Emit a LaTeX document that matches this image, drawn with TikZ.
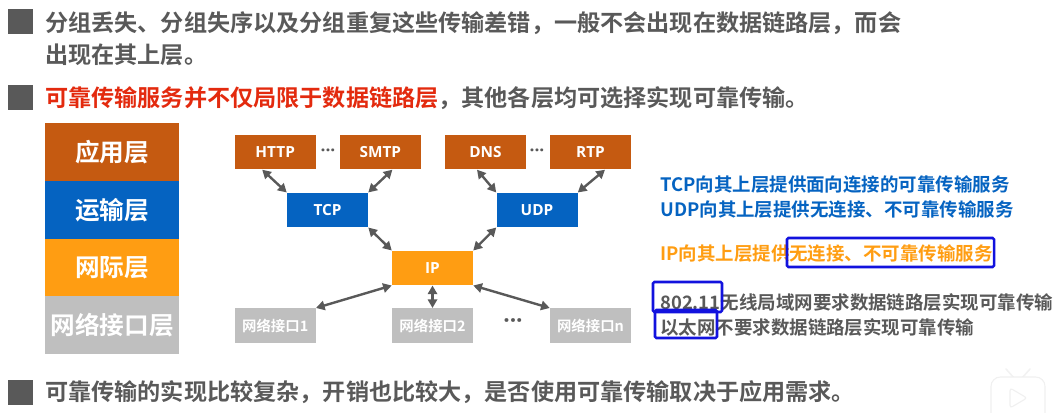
\documentclass[tikz,border=0pt]{standalone}
\usepackage{fontspec}
\setmainfont{Noto Sans CJK SC}[BoldFont={Noto Sans CJK SC Bold}]
\newfontfamily\latinfont{Open Sans}[BoldFont={Open Sans Bold}]
\usetikzlibrary{arrows.meta}
\definecolor{appclr}{HTML}{C55A11}
\definecolor{tranclr}{HTML}{0563C1}
\definecolor{ipclr}{HTML}{FF9D12}
\definecolor{linkclr}{HTML}{BFBFBF}
\definecolor{txtclr}{HTML}{595959}
\definecolor{redclr}{HTML}{E32A0E}
\definecolor{boxclr}{HTML}{1212DE}
\begin{document}
\begin{tikzpicture}[
    x=0.75pt, y=-0.75pt,
    layer/.style={minimum width=134.3*0.75pt, minimum height=57.7*0.75pt, inner sep=0pt, text=white, font=\fontsize{18.5}{20}\selectfont\bfseries},
    proto/.style={minimum width=81*0.75pt, minimum height=34.5*0.75pt, inner sep=0pt, text=white, font=\latinfont\fontsize{11.5}{13}\selectfont\bfseries},
    iface/.style={proto, fill=linkclr, font=\fontsize{10.8}{13}\selectfont\bfseries},
    link/.style={{Triangle[length=6.5pt,width=7pt]}-{Triangle[length=6.5pt,width=7pt]}, line width=1.8pt, color=txtclr},
    bullet/.style={fill=txtclr, minimum size=25*0.75pt, inner sep=0pt},
    para/.style={anchor=west, inner sep=0pt, text=txtclr, font=\fontsize{17.35}{24}\selectfont\bfseries},
    note/.style={anchor=west, inner sep=0pt, font=\fontsize{13.85}{16}\selectfont\bfseries},
    dots/.style={text=txtclr, inner sep=0pt, font=\latinfont\fontsize{13}{13}\selectfont\bfseries},
    hilite/.style={draw=boxclr, line width=1.9pt, rounded corners=1pt, fill=none}
]
\useasboundingbox (0,0) rectangle (1062,413);

% Watermark
\draw[line width=1.2pt, color=black!5, line cap=round] (1006,369) -- (1014,378);
\draw[line width=1.2pt, color=black!5, line cap=round] (1030,369) -- (1022,378);
\draw[fill=white, draw=black!6, line width=0.8pt, rounded corners=7pt] (991,377) rectangle (1045,425);
\draw[draw=black!6, line width=0.8pt, rounded corners=2pt] (1010,388) -- (1027,398) -- (1010,408) -- cycle;

% Text at the top
\node[bullet] (b1) at (20.5,21.5) {};
\node[bullet] (b2) at (20.5,97.5) {};
\node[bullet] (b3) at (20.5,392.5) {};
\node[para] (l1) at (45,23) {分组丢失、分组失序以及分组重复这些传输差错，一般不会出现在数据链路层，而会};
\node[para] (l2) at (45,55) {出现在其上层。};
\node[para] (l3) at (45,98) {\textcolor{redclr}{可靠传输服务并不仅局限于数据链路层}，其他各层均可选择实现可靠传输。};
\node[para] (l4) at (45,392) {可靠传输的实现比较复杂，开销也比较大，是否使用可靠传输取决于应用需求。};

% Layer stack
\node[layer, fill=appclr] (app) at (112.2,152.2) {应用层};
\node[layer, fill=tranclr] (tran) at (112.2,209.9) {运输层};
\node[layer, fill=ipclr] (net) at (112.2,267.6) {网际层};
\node[layer, fill=linkclr] (lnk) at (112.2,325.3) {网络接口层};

% Protocol boxes
\node[proto, fill=appclr] (http) at (275.2,152.2) {HTTP};
\node[proto, fill=appclr] (smtp) at (380.4,152.2) {SMTP};
\node[proto, fill=appclr] (dns) at (485.5,152.2) {DNS};
\node[proto, fill=appclr] (rtp) at (590.5,152.2) {RTP};
\node[proto, fill=tranclr] (tcp) at (327.5,210) {TCP};
\node[proto, fill=tranclr] (udp) at (537,210) {UDP};
\node[proto, fill=ipclr] (ip) at (432.5,268) {IP};
\node[iface] (if1) at (275.2,325.5) {网络接口1};
\node[iface] (if2) at (432.5,325.5) {网络接口2};
\node[iface] (ifn) at (590.5,325.5) {网络接口n};
\node[dots] (d1) at (328,153) {···};
\node[dots] (d2) at (537,153) {···};
\node[dots, font=\latinfont\fontsize{17}{17}\selectfont\bfseries] (d3) at (513,324) {···};

% Arrows
\draw[link] (http.south)+(-13,0) -- (tcp.north west);
\draw[link] (smtp.south)+(12,0) -- (tcp.north east);
\draw[link] (dns.south)+(-8.5,0) -- (udp.north west);
\draw[link] (rtp.south)+(14.5,0) -- (udp.north east);
\draw[link] (tcp.south east) -- (ip.north west);
\draw[link] (udp.south west) -- (ip.north east);
\draw[link] (ip.south west) -- (if1.north east);
\draw[link] (ip.south) -- (if2.north);
\draw[link] (ip.south east) -- (ifn.north west);

% Notes on the right
\node[note, text=tranclr] (n1) at (660,185) {TCP向其上层提供面向连接的可靠传输服务};
\node[note, text=tranclr] (n2) at (660,209.5) {UDP向其上层提供无连接、不可靠传输服务};
\node[note, text=ipclr] (n3) at (660,254) {IP向其上层提供无连接、不可靠传输服务};
\node[note, text=txtclr] (n4) at (660,302.5) {802.11无线局域网要求数据链路层实现可靠传输};
\node[note, text=txtclr] (n5) at (660,327) {以太网不要求数据链路层实现可靠传输};
\draw[hilite] (787,238) rectangle (994,267);
\draw[hilite] (653,282) rectangle (722,312);
\draw[hilite] (655,310) rectangle (717,338);
\end{tikzpicture}
\end{document}
